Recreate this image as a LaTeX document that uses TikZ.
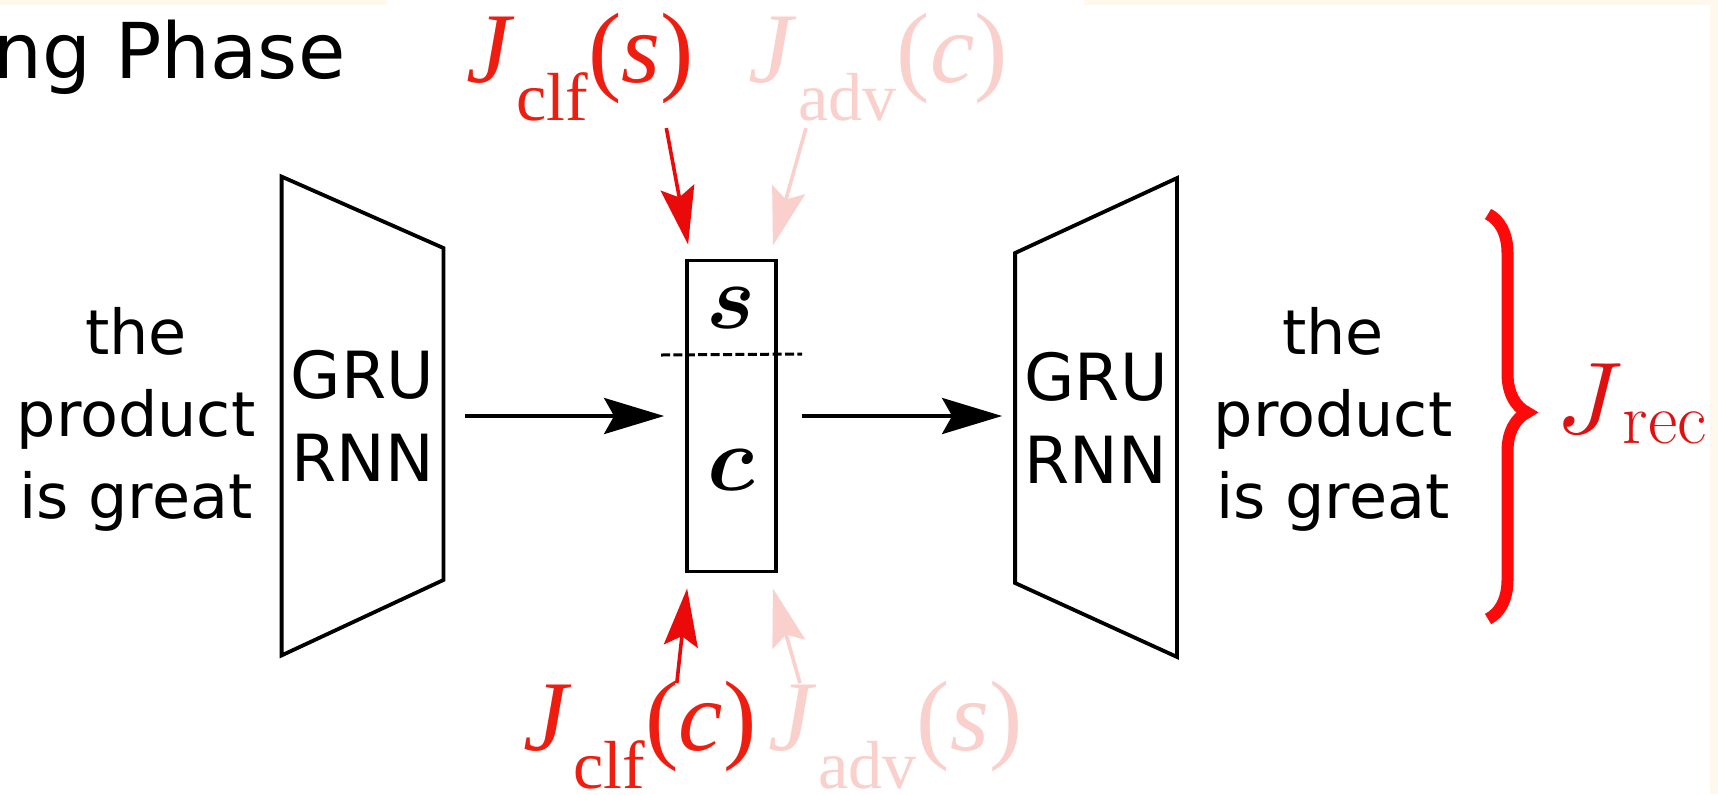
\documentclass[tikz,border=0pt]{standalone}
\usepackage{amsmath}
\usepackage{fontspec}
\setsansfont{DejaVu Sans}
\newfontfamily\lossfont{Liberation Serif}
\usepackage{tikz}
\usetikzlibrary{arrows.meta, positioning, calc, decorations.pathreplacing}
\definecolor{clfred}{HTML}{EE1D10}
\definecolor{advpink}{HTML}{F9D0CB}
\definecolor{arrred}{HTML}{EA0A0A}
\definecolor{recred}{HTML}{E01010}
\definecolor{bracered}{HTML}{FF0A0A}
\definecolor{cream}{HTML}{FFF8EC}
% J_{sub}(arg) in the serif of the loss labels
\newcommand{\losslbl}[2]{\textit{J}\kern1pt\raisebox{-19pt}{\fontsize{34pt}{34pt}\selectfont #1}\kern0pt(\textit{#2})}
\tikzset{
  rnnbox/.style   = {minimum width=80.5pt, minimum height=239pt, inner sep=0pt,
                     align=center, font=\sffamily\fontsize{32.5pt}{41.5pt}\selectfont},
  sentlbl/.style  = {align=center, inner sep=0pt,
                     font=\sffamily\fontsize{31pt}{41pt}\selectfont},
  codebox/.style  = {draw, line width=1.9pt, minimum width=44.5pt,
                     minimum height=155.5pt, inner sep=0pt},
  codevar/.style  = {inner sep=0pt},
  trap/.style     = {draw, line width=1.9pt, line join=miter},
  flow/.style     = {-{Stealth[length=30pt, width=18pt, inset=5pt]}, line width=2pt},
  lossflow/.style = {-{Stealth[length=29pt, width=17pt, inset=5pt]}, line width=1.8pt},
  losslbl/.style  = {anchor=base west, inner sep=0pt,
                     font=\lossfont\fontsize{50pt}{50pt}\selectfont},
}
\begin{document}
\begin{tikzpicture}[x=0.5pt, y=-0.5pt]
    \useasboundingbox (0,0) rectangle (1718,794);
    \fill[cream] (0,0) rectangle (387,5);
    \fill[cream] (1084,0) rectangle (1718,5);
    \fill[cream] (1710,0) rectangle (1718,794);

    \node[anchor=base west, inner sep=0pt,
          font=\sffamily\fontsize{38.5pt}{46pt}\selectfont] (phase) at (-7,78) {ng Phase};

    % encoder, code, decoder
    \node[sentlbl]          (src) at (136,419)    {the\\product\\is great};
    \node[rnnbox]           (enc) at (362.5,416)  {GRU\\RNN};
    \node[codebox]          (z)   at (731.5,416)  {};
    \node[codevar]          (s)   at (731,308)    {\scalebox{4.6}{$\boldsymbol{s}$}};
    \node[codevar]          (c)   at (731,470)    {\scalebox{4.6}{$\boldsymbol{c}$}};
    \node[rnnbox]           (dec) at (1096,417.5) {GRU\\RNN};
    \node[sentlbl]          (tgt) at (1333,419)   {the\\product\\is great};

    \draw[trap] (enc.north west) -- ($(enc.east)+(0,-168)$) -- ($(enc.east)+(0,164)$)
                -- (enc.south west) -- cycle;
    \draw[trap] (dec.north east) -- (dec.south east) -- ($(dec.west)+(0,165.5)$)
                -- ($(dec.west)+(0,-164.5)$) -- cycle;
    \draw[line width=1.5pt, dash pattern=on 4.5pt off 1.7pt] (661,355) -- (802,354);

    \draw[flow, shorten <=11pt, shorten >=10.5pt] (enc.east) -- (enc.east -| z.west);
    \draw[flow, shorten <=12pt, shorten >=6.5pt] (z.east) -- (z.east -| dec.west);

    % losses on the code
    \node[losslbl, text=clfred]  (clfs) at (466,82)  {\losslbl{clf}{s}};
    \node[losslbl, text=advpink] (advc) at (748,82)  {\losslbl{adv}{c}};
    \node[losslbl, text=clfred]  (clfc) at (523,750) {\losslbl{clf}{c}};
    \node[losslbl, text=advpink] (advs) at (768,750) {\losslbl{adv}{s}};

    \draw[lossflow, arrred]  ([shift={(-28,7)}]clfs.south east) -- ([shift={(3,-14)}]z.north west);
    \draw[lossflow, advpink] ([shift={(58,7)}]advc.south west)  -- ([shift={(-5,-13)}]z.north east);
    \draw[lossflow, arrred]  ([shift={(-80,3)}]clfc.north east) -- ([shift={(2,15)}]z.south west);
    \draw[lossflow, advpink] ([shift={(32,3)}]advs.north west)  -- ([shift={(-5,15)}]z.south east);

    % reconstruction
    \coordinate (rectop) at (1488,214);
    \coordinate (recbot) at (1488,619);
    \draw[bracered, line width=6pt, decorate,
          decoration={brace, amplitude=19.5pt, aspect=0.49}] (rectop) -- (recbot);
    \node[anchor=base west, inner sep=0pt, text=recred] (rec) at (1556,433)
          {\scalebox{5.1}{$J$}\kern0pt\raisebox{-5pt}{\fontsize{36pt}{36pt}\selectfont rec}};
\end{tikzpicture}
\end{document}
